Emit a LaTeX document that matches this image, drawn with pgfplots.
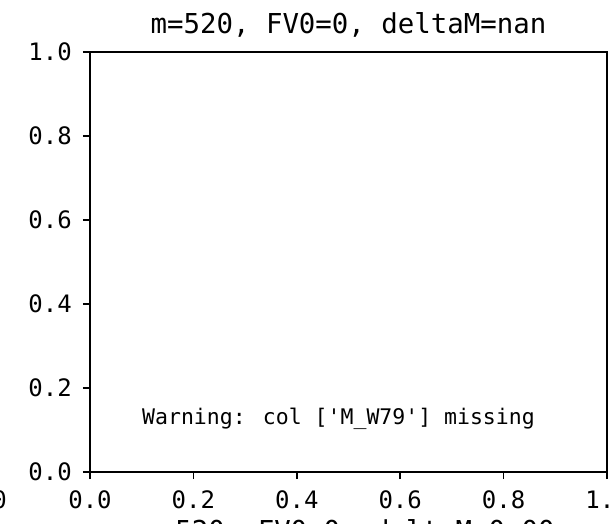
\documentclass[border=0pt]{standalone}
\usepackage{fontspec}
\setmainfont{DejaVu Sans Mono}
\usepackage{pgfplots}
\pgfplotsset{compat=1.18}
\begin{document}
\begin{tikzpicture}
\useasboundingbox (-90pt,-51pt) rectangle (524pt,472pt);
\clip (-90pt,-51pt) rectangle (524pt,472pt);
\begin{axis}[
  at={(0pt,0pt)}, anchor=south west,
  scale only axis, width=517pt, height=420pt,
  xmin=0, xmax=1, ymin=0, ymax=1,
  xtick={0,0.2,0.4,0.6,0.8,1.0},
  ytick={0,0.2,0.4,0.6,0.8,1.0},
  xtick pos=bottom, ytick pos=left,
  tick align=outside,
  major tick length=7pt,
  every tick/.style={line width=1.6pt, black},
  axis line style={line width=1.8pt},
  /pgf/number format/assume math mode=true,
  /pgf/number format/.cd, fixed, fixed zerofill, precision=1, /pgfplots/.cd,
  ticklabel style={font=\fontsize{24}{28}\selectfont},
  xticklabel style={inner sep=0pt, anchor=base, yshift=-29pt},
  yticklabel style={inner sep=0pt, anchor=east, xshift=-11pt},
  clip=false,
]
\node[anchor=base, inner sep=0pt, font=\fontsize{27.4}{32}\selectfont]
  at (rel axis cs:0.5,1) [yshift=18pt] {m=520, FV0=0, deltaM=nan};
\node[anchor=south, inner sep=0pt, font=\fontsize{21.5}{26}\selectfont]
  at (rel axis cs:0.5,0.1) [xshift=-10pt] {Warning: col [\textquotesingle M\_W79\textquotesingle] missing};
\node[anchor=base, inner sep=0pt, font=\fontsize{27.4}{32}\selectfont]
  at (rel axis cs:0.5,0) [yshift=-68pt] {m=520, FV0=0, deltaM=0.00};
\node[anchor=base east, inner sep=0pt, font=\fontsize{24}{28}\selectfont]
  at (rel axis cs:0,0) [xshift=-83pt, yshift=-36pt] {1.0};
\end{axis}
\end{tikzpicture}
\end{document}
